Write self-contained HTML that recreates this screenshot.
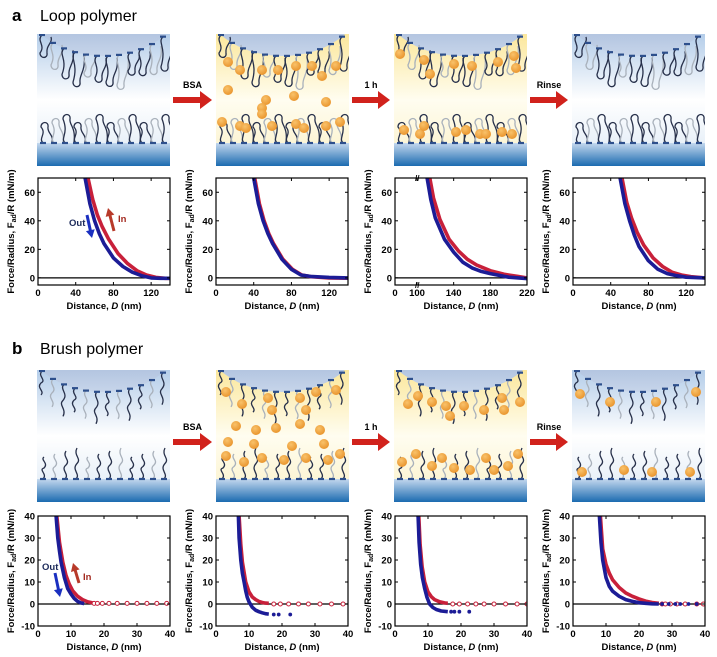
<!DOCTYPE html>
<html><head><meta charset="utf-8"><style>
html,body{margin:0;padding:0;background:#fff;}
svg{display:block;font-family:"Liberation Sans",Arial,sans-serif;}
</style></head><body>
<svg id="fig" width="717" height="657" viewBox="0 0 717 657" xmlns="http://www.w3.org/2000/svg">
<defs>
<linearGradient id="bgBlue" x1="0" y1="0" x2="0" y2="1"><stop offset="0" stop-color="#b4cde9"/><stop offset="0.5" stop-color="#ffffff"/><stop offset="1" stop-color="#dde9f5"/></linearGradient>
<linearGradient id="bgYel" x1="0" y1="0" x2="0" y2="1"><stop offset="0" stop-color="#fbe79c"/><stop offset="0.5" stop-color="#fffdf0"/><stop offset="1" stop-color="#fbf1c8"/></linearGradient>
<linearGradient id="dome" x1="0" y1="0" x2="0" y2="1"><stop offset="0" stop-color="#5f82b8"/><stop offset="1" stop-color="#c7d5ea"/></linearGradient>
<linearGradient id="sub" x1="0" y1="0" x2="0" y2="1"><stop offset="0" stop-color="#c4d8ee"/><stop offset="1" stop-color="#1b6bb0"/></linearGradient>
<radialGradient id="ball" cx="0.4" cy="0.35" r="0.7"><stop offset="0" stop-color="#f9c26a"/><stop offset="1" stop-color="#e8922a"/></radialGradient>
</defs>
<g id="labels">
<text x="12" y="21" font-size="17" font-weight="bold">a</text>
<text x="40" y="21" font-size="16">Loop polymer</text>
<text x="12" y="354" font-size="17" font-weight="bold">b</text>
<text x="40" y="354" font-size="16">Brush polymer</text>
</g>
<g id="schemes"></g>
<g id="plots"></g>
</svg>
<script>
// ---------- chart data ----------
const topXTicks1=[0,40,80,120];
const topXTicks3=[100,140,180,220];
const topYTicks=[0,20,40,60];
const botXTicks=[0,10,20,30,40];
const botYTicks=[-10,0,10,20,30,40];

const a1OutD=[50,55,60,65,70,80,90,100,110,120,130,140];
const a1OutF=[70,52,40,31,24,14,8,4,1.5,0,-0.3,-0.3];
const a1InD=[53,58,63,68,75,85,95,105,115,125,135,140];
const a1InF=[70,55,44,36,27,17,10,5,2,0.3,-0.3,-0.3];
const a2OutD=[40,45,50,55,60,70,80,90,100,120,140];
const a2OutF=[70,52,40,31,24,13,6,2,1,0.3,0];
const a2InD=[41,46,51,56,61,71,81,91,101,120,140];
const a2InF=[70,52,40,31,24,13,6,2,0.8,0,-0.2];
const a3OutD=[111,115,120,130,140,150,160,170,180,200,220];
const a3OutF=[70,55,42,27,18,11,7,4.5,3,0.5,-0.5];
const a3InD=[114,118,125,135,145,155,165,180,195,210,220];
const a3InF=[70,56,41,27,19,13,9,5,2.5,1,0];
const a4OutD=[50,55,60,65,70,80,90,100,110,120,140];
const a4OutF=[70,52,40,30,22,12,6,3,1.5,0.5,0];
const a4InD=[52,57,62,68,75,85,95,105,115,125,140];
const a4InF=[70,53,42,32,23,14,8,4,2,0.8,0];

const b1OutD=[5.5,6,6.5,7,8,9,10,11,12,13,14];
const b1OutF=[40,30,24,19,12,7,4.5,2.5,1.2,0.5,0.2];
const b1InD=[5.7,6.5,7.5,8.5,9.5,10.5,12,13.5,15,16.5];
const b1InF=[40,28,19,13,9,6,3.5,2,1,0.5];
const b1TailD=[17,18,19.5,21.5,24,27,30,33,36,39];
const b1TailF=[0.3,0.3,0.3,0.3,0.3,0.3,0.3,0.3,0.3,0.3];
const b2OutD=[6.8,7,7.5,8,8.5,9,9.5,10,11,12,13,14,15,16];
const b2OutF=[40,30,20,14,10,6,3,1,-1.5,-2.8,-3.5,-4,-4.4,-4.6];
const b2OutTailD=[17.5,19,22.5];
const b2OutTailF=[-4.8,-4.8,-4.8];
const b2InD=[7,7.5,8,9,10,11,12,13,14,15,16];
const b2InF=[40,27,19,10,5.5,3.2,2,1.2,0.7,0.4,0.3];
const b2InTailD=[17.5,19.5,22,25,28,31.5,35,38.5];
const b2InTailF=[0,0,0,0,0,0,0,0];
const b3OutD=[7,7.3,7.8,8.3,9,9.7,10.5,11.5,12.5,14,16];
const b3OutF=[40,28,18,12,7,3,0,-1.6,-2.5,-3.2,-3.5];
const b3OutTailD=[17,18,19.5,22.5];
const b3OutTailF=[-3.5,-3.5,-3.5,-3.5];
const b3InD=[7.2,7.6,8.2,9,10,11,12,13.5,15,16];
const b3InF=[40,27,17,10,5.5,3.3,2,1,0.5,0.3];
const b3InTailD=[17.5,19.5,22,24.5,27,30,33.5,37,40];
const b3InTailF=[0,0,0,0,0,0,0,0,0];
const b4OutD=[8,8.5,9,10,11,12,14,16,18,20,22,24,26];
const b4OutF=[40,28,20,12,8,5.8,3.5,2,1.2,0.6,0.3,0.1,0];
const b4OutTailD=[27,29,31,32.5,35,37.5];
const b4OutTailF=[0,0,0,0,0,0];
const b4InD=[8.3,9,10,11,12,14,16,18,20,22,24,26];
const b4InF=[40,25,18,14,11,7.5,5,3.5,2.3,1.3,0.7,0.3];
const b4InTailD=[27,28,29.5,31.5,34,37.5,39.5];
const b4InTailF=[0,0,0,0,0,0,0];

const NS="http://www.w3.org/2000/svg";
const RED="#c8203a", BLUE="#1c1c96";
function mk(tag,attrs,parent){const e=document.createElementNS(NS,tag);for(const k in attrs)e.setAttribute(k,attrs[k]);parent.appendChild(e);return e;}

// ---------- schematics ----------
const schemes=document.getElementById('schemes');
const colX=[37,216,394,572], SW=133;
const DCY=-36, DRY=58, DRXF=0.6;
function scheme(x,y,h,yellow,loop,ballsTop,ballsMid,ballsBot,idx){
  const g=mk('g',{},schemes);
  
  
  const cid='clip'+idx;
  const cp=mk('clipPath',{id:cid},g);mk('rect',{x:x,y:y,width:SW,height:h},cp);
  const inner=mk('g',{'clip-path':'url(#'+cid+')'},g);
  mk('rect',{x:x,y:y,width:SW,height:h,fill:yellow?'url(#bgYel)':'url(#bgBlue)'},inner);
  mk('ellipse',{cx:x+SW/2,cy:y+DCY,rx:SW*DRXF,ry:DRY,fill:'url(#dome)'},inner);
  mk('rect',{x:x,y:y+h-23,width:SW,height:23,fill:'url(#sub)'},inner);
  for(let i=0;i<12;i++){
    const ax=x+5+i*11;const t=(ax-(x+SW/2))/(SW*DRXF);
    const ay=y+DCY+DRY*Math.sqrt(Math.max(0,1-t*t));
    const col=i%3==1?'#a9b1bb':'#27304a';
    const len=loop?18+(i%4)*4:24+(i%3)*4;
    let d='M'+ax+' '+ay;
    if(loop){d+=' c -6 6 4 10 -2 '+len+' c 0 6 8 6 7 0 c -1 -8 6 -10 4 -'+(len-2);}
    else{d+=' c -5 5 5 9 -1 '+(len*0.5)+' c -5 5 4 8 0 '+(len*0.5);}
    mk('path',{d:d,fill:'none',stroke:col,'stroke-width':1.3},inner);
    mk('line',{x1:ax-3,y1:ay,x2:ax+3,y2:ay,stroke:'#2d4f8c','stroke-width':2.2},inner);
  }
  const by=y+h-23;
  for(let i=0;i<12;i++){
    const ax=x+6+i*11;const col=i%3==1?'#a9b1bb':'#27304a';
    const len=loop?16+(i%3)*4:22+(i%4)*3;
    let d='M'+ax+' '+by;
    if(loop){d+=' c -5 -5 4 -9 -2 -'+len+' c 0 -6 8 -6 7 0 c -1 6 6 8 4 '+(len-1);}
    else{d+=' c 5 -5 -5 -9 1 -'+(len*0.5)+' c 5 -5 -4 -8 0 -'+(len*0.5);}
    mk('path',{d:d,fill:'none',stroke:col,'stroke-width':1.3},inner);
    mk('line',{x1:ax-3,y1:by,x2:ax+3,y2:by,stroke:'#2d4f8c','stroke-width':2.2},inner);
  }
  const balls=[].concat(ballsTop,ballsMid,ballsBot);
  balls.forEach(b=>mk('circle',{cx:x+b[0],cy:y+b[1],r:5,fill:'url(#ball)'},inner));
}
const topY=34, botY=370, SH=132;
const aBTop=[[12,28],[24,36],[46,36],[62,36],[80,32],[96,32],[106,42],[120,32]];
const aBMid=[[12,56],[50,66],[78,62],[110,68],[46,74],[46,80]];
const aBBot=[[6,88],[24,92],[30,94],[56,92],[80,90],[88,94],[110,92],[124,88]];
const a3Top=[[6,20],[30,26],[60,30],[78,32],[104,28],[120,22],[122,34],[36,40]];
const a3Bot=[[10,96],[26,100],[62,98],[72,96],[86,100],[92,100],[108,98],[118,100],[30,92]];
const bBTop=[[10,22],[26,34],[52,28],[84,28],[100,22],[120,20],[56,40],[90,40]];
const bBMid=[[20,56],[40,60],[60,58],[84,54],[104,60],[12,72],[38,74],[76,76],[108,74]];
const bBBot=[[10,86],[28,92],[46,88],[68,90],[90,88],[112,90],[124,84]];
const b3Top=[[14,34],[24,26],[38,32],[52,36],[70,36],[90,40],[108,28],[110,40],[126,32],[56,46]];
const b3Bot=[[8,92],[22,84],[38,96],[48,88],[60,98],[76,100],[92,88],[100,100],[114,96],[124,84]];
const b4Top=[[8,24],[38,32],[84,32],[124,22]];
const b4Bot=[[10,102],[52,100],[80,102],[118,102]];
scheme(colX[0],topY,SH,false,true,[],[],[],'a1');
scheme(colX[1],topY,SH,true,true,aBTop,aBMid,aBBot,'a2');
scheme(colX[2],topY,SH,true,true,a3Top,[],a3Bot,'a3');
scheme(colX[3],topY,SH,false,true,[],[],[],'a4');
scheme(colX[0],botY,SH,false,false,[],[],[],'b1');
scheme(colX[1],botY,SH,true,false,bBTop,bBMid,bBBot,'b2');
scheme(colX[2],botY,SH,true,false,b3Top,[],b3Bot,'b3');
scheme(colX[3],botY,SH,false,false,b4Top,[],b4Bot,'b4');

const arrowLabels=['BSA','1 h','Rinse'];
[[topY+66],[botY+72]].forEach((yy,r)=>{
  for(let i=0;i<3;i++){
    const x0=colX[i]+SW+3, x1=colX[i+1]-4, cy=yy[0];
    const ag=mk('g',{},schemes);
    
    
    mk('polygon',{points:`${x0},${cy-3} ${x1-12},${cy-3} ${x1-12},${cy-9} ${x1},${cy} ${x1-12},${cy+9} ${x1-12},${cy+3} ${x0},${cy+3}`,fill:'#d1221c'},ag);
    const t=mk('text',{x:(x0+x1)/2,y:cy-12,'text-anchor':'middle','font-size':9,'font-weight':'bold'},ag);
    t.textContent=arrowLabels[i];
  }
});

// ---------- plots ----------
const plots=document.getElementById('plots');
const PX=[38,216,395,573], PW=132;
function plot(idx,px,py,ph,xmin,xmax,ymin,ymax,xticks,yticks,series,brk){
  const g=mk('g',{},plots);
  
  
  const xs=brk?(v=>v<=100? px+22*(v/100) : px+22+(PW-22)*(v-100)/(xmax-100)):(v=>px+PW*(v-xmin)/(xmax-xmin));
  const ys=v=>py+ph*(ymax-v)/(ymax-ymin);
  const cid='pc'+idx;const cp=mk('clipPath',{id:cid},g);mk('rect',{x:px,y:py,width:PW,height:ph},cp);
  const data=mk('g',{'clip-path':'url(#'+cid+')'},g);
  mk('line',{x1:px,y1:ys(0),x2:px+PW,y2:ys(0),stroke:'#000','stroke-width':1.2},data);
  series.forEach(s=>{
    const pts=s.d.map((d,i)=>xs(d).toFixed(1)+','+ys(s.f[i]).toFixed(1)).join(' ');
    const pl=mk('polyline',{points:pts,fill:'none',stroke:s.c,'stroke-width':3.6,'stroke-linejoin':'round'},data);
    
    
    if(s.td){s.td.forEach((d,i)=>{
      const m=mk('circle',{cx:xs(d),cy:ys(s.tf[i]),r:s.open?2:1.4,fill:s.open?'#fff':s.c,stroke:s.c,'stroke-width':1},data);
      
      
    });}
  });
  const ax=mk('rect',{x:px,y:py,width:PW,height:ph,fill:'none',stroke:'#000','stroke-width':1.2},g);
  
  
  const labelX=brk?[0].concat(xticks):xticks;
  labelX.forEach(v=>{
    const X=(brk&&v===0)?px:xs(v);
    mk('line',{x1:X,y1:py+ph,x2:X,y2:py+ph-3,stroke:'#000'},g);
    mk('line',{x1:X,y1:py,x2:X,y2:py+3,stroke:'#000'},g);
    const t=mk('text',{x:X,y:py+ph+11,'text-anchor':'middle','font-size':9.5,'font-weight':'bold'},g);
    t.textContent=v;
  });
  yticks.forEach(v=>{
    const Y=ys(v);
    mk('line',{x1:px,y1:Y,x2:px+3,y2:Y,stroke:'#000'},g);
    mk('line',{x1:px+PW,y1:Y,x2:px+PW-3,y2:Y,stroke:'#000'},g);
    const t=mk('text',{x:px-3,y:Y+3.5,'text-anchor':'end','font-size':9.5,'font-weight':'bold'},g);
    t.textContent=v;
  });
  if(brk){mk('text',{x:px+20,y:py+3,'font-size':8,'font-weight':'bold'},g).textContent='//';
          mk('text',{x:px+20,y:py+ph+3,'font-size':8,'font-weight':'bold'},g).textContent='//';}
  const xl=mk('text',{x:px+PW/2,y:py+ph+24,'text-anchor':'middle','font-size':9.5,'font-weight':'bold'},g);
  xl.innerHTML='Distance, <tspan font-style="italic">D</tspan> (nm)';
  
  
  const cy=py+ph/2, cx=px-24;
  const yl=mk('text',{x:cx,y:cy,'text-anchor':'middle','font-size':9.5,'font-weight':'bold',transform:`rotate(-90 ${cx} ${cy})`},g);
  yl.innerHTML='Force/Radius, F<tspan font-size="7" dy="2">ad</tspan><tspan dy="-2">/R (mN/m)</tspan>';
  
  
}
const tY=178,tH=107,bY=516,bH=110;
plot('a1',PX[0],tY,tH,0,140,-5,70,topXTicks1,topYTicks,[
 {name:'a1-in',c:RED,d:a1InD,f:a1InF},{name:'a1-out',c:BLUE,d:a1OutD,f:a1OutF}]);
plot('a2',PX[1],tY,tH,0,140,-5,70,topXTicks1,topYTicks,[
 {name:'a2-in',c:RED,d:a2InD,f:a2InF},{name:'a2-out',c:BLUE,d:a2OutD,f:a2OutF}]);
plot('a3',PX[2],tY,tH,0,220,-5,70,topXTicks3,topYTicks,[
 {name:'a3-in',c:RED,d:a3InD,f:a3InF},{name:'a3-out',c:BLUE,d:a3OutD,f:a3OutF}],true);
plot('a4',PX[3],tY,tH,0,140,-5,70,topXTicks1,topYTicks,[
 {name:'a4-in',c:RED,d:a4InD,f:a4InF},{name:'a4-out',c:BLUE,d:a4OutD,f:a4OutF}]);
plot('b1',PX[0],bY,bH,0,40,-10,40,botXTicks,botYTicks,[
 {name:'b1-in',c:RED,d:b1InD,f:b1InF,td:b1TailD,tf:b1TailF,open:true},{name:'b1-out',c:BLUE,d:b1OutD,f:b1OutF}]);
plot('b2',PX[1],bY,bH,0,40,-10,40,botXTicks,botYTicks,[
 {name:'b2-in',c:RED,d:b2InD,f:b2InF,td:b2InTailD,tf:b2InTailF,open:true},{name:'b2-out',c:BLUE,d:b2OutD,f:b2OutF,td:b2OutTailD,tf:b2OutTailF}]);
plot('b3',PX[2],bY,bH,0,40,-10,40,botXTicks,botYTicks,[
 {name:'b3-in',c:RED,d:b3InD,f:b3InF,td:b3InTailD,tf:b3InTailF,open:true},{name:'b3-out',c:BLUE,d:b3OutD,f:b3OutF,td:b3OutTailD,tf:b3OutTailF}]);
plot('b4',PX[3],bY,bH,0,40,-10,40,botXTicks,botYTicks,[
 {name:'b4-in',c:RED,d:b4InD,f:b4InF,td:b4InTailD,tf:b4InTailF,open:true},{name:'b4-out',c:BLUE,d:b4OutD,f:b4OutF,td:b4OutTailD,tf:b4OutTailF}]);

function arrowAnn(x1,y1,x2,y2,c,name){
  const g=mk('g',{},plots);
  
  
  const a=Math.atan2(y2-y1,x2-x1);
  mk('line',{x1:x1,y1:y1,x2:x2-6*Math.cos(a),y2:y2-6*Math.sin(a),stroke:c,'stroke-width':3},g);
  const px=-Math.sin(a),py=Math.cos(a);
  mk('polygon',{points:`${x2},${y2} ${x2-8*Math.cos(a)+4.5*px},${y2-8*Math.sin(a)+4.5*py} ${x2-8*Math.cos(a)-4.5*px},${y2-8*Math.sin(a)-4.5*py}`,fill:c},g);
}
function ann(x,y,txt,c){const t=mk('text',{x:x,y:y,'font-size':9.5,'font-weight':'bold',fill:c},plots);t.textContent=txt;
 
 }
arrowAnn(87,215,92,238,'#1a2fc0','out-arrow-a');
arrowAnn(114,231,108,208,'#b83a2a','in-arrow-a');
ann(69,226,'Out','#1c2a5a');ann(118,222,'In','#a32a20');
arrowAnn(55,573,60,597,'#1a2fc0','out-arrow-b');
arrowAnn(79,583,73,563,'#b83a2a','in-arrow-b');
ann(42,570,'Out','#1c2a5a');ann(83,580,'In','#a32a20');
</script>
</body></html>
